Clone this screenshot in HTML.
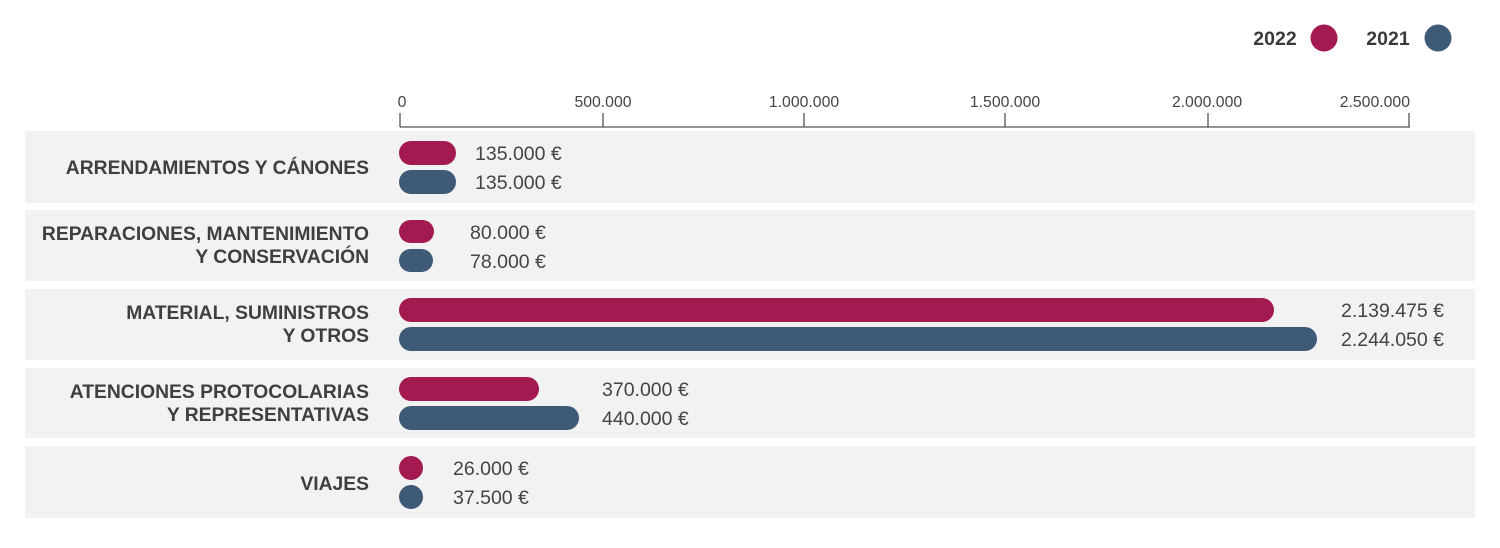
<!DOCTYPE html>
<html><head><meta charset="utf-8"><style>
body{margin:0;width:1500px;height:543px;background:#fff;overflow:hidden;font-family:"Liberation Sans",sans-serif;}
</style></head><body>
<svg width="1500" height="543" xmlns="http://www.w3.org/2000/svg" font-family="Liberation Sans, sans-serif">
<g font-size="19.5" font-weight="bold" fill="#3a3a3a">
<text x="1275" y="45" text-anchor="middle">2022</text>
<text x="1388" y="45" text-anchor="middle">2021</text>
</g>
<circle cx="1324" cy="38" r="13.5" fill="#a21a50"/>
<circle cx="1438" cy="38" r="13.5" fill="#3f5a76"/>
<g font-size="15.8" fill="#444">
<text x="402" y="107" text-anchor="middle">0</text>
<text x="603" y="107" text-anchor="middle">500.000</text>
<text x="804" y="107" text-anchor="middle">1.000.000</text>
<text x="1005" y="107" text-anchor="middle">1.500.000</text>
<text x="1207" y="107" text-anchor="middle">2.000.000</text>
<text x="1410" y="107" text-anchor="end">2.500.000</text>
</g>
<g stroke="#555" stroke-width="1.3">
<line x1="400" y1="127" x2="1410" y2="127"/>
<line x1="400" y1="113" x2="400" y2="127"/>
<line x1="603" y1="113" x2="603" y2="127"/>
<line x1="804" y1="113" x2="804" y2="127"/>
<line x1="1005" y1="113" x2="1005" y2="127"/>
<line x1="1208" y1="113" x2="1208" y2="127"/>
<line x1="1409" y1="113" x2="1409" y2="127"/>
</g>
<g fill="#f2f2f2">
<rect x="25" y="131" width="1450" height="72"/>
<rect x="25" y="210" width="1450" height="71"/>
<rect x="25" y="289" width="1450" height="71"/>
<rect x="25" y="368" width="1450" height="70"/>
<rect x="25" y="446" width="1450" height="72"/>
</g>
<g font-size="19.3" font-weight="bold" fill="#3f3f3f" text-anchor="end">
<text x="369" y="174">ARRENDAMIENTOS Y CÁNONES</text>
<text x="369" y="240">REPARACIONES, MANTENIMIENTO</text>
<text x="369" y="263">Y CONSERVACIÓN</text>
<text x="369" y="319">MATERIAL, SUMINISTROS</text>
<text x="369" y="342">Y OTROS</text>
<text x="369" y="398">ATENCIONES PROTOCOLARIAS</text>
<text x="369" y="421">Y REPRESENTATIVAS</text>
<text x="369" y="490">VIAJES</text>
</g>
<g fill="#a21a50">
<rect x="399" y="141" width="57" height="24" rx="12"/>
<rect x="399" y="220" width="35" height="23" rx="11.5"/>
<rect x="399" y="298" width="875" height="24" rx="12"/>
<rect x="399" y="377" width="140" height="24" rx="12"/>
<rect x="399" y="456" width="24" height="24" rx="12"/>
</g>
<g fill="#3f5a76">
<rect x="399" y="170" width="57" height="24" rx="12"/>
<rect x="399" y="249" width="34" height="23" rx="11.5"/>
<rect x="399" y="327" width="918" height="24" rx="12"/>
<rect x="399" y="406" width="180" height="24" rx="12"/>
<rect x="399" y="485" width="24" height="24" rx="12"/>
</g>
<g font-size="19.5" fill="#444">
<text x="475" y="160">135.000 €</text>
<text x="475" y="189">135.000 €</text>
<text x="470" y="239">80.000 €</text>
<text x="470" y="268">78.000 €</text>
<text x="1341" y="317">2.139.475 €</text>
<text x="1341" y="346">2.244.050 €</text>
<text x="602" y="396">370.000 €</text>
<text x="602" y="425">440.000 €</text>
<text x="453" y="475">26.000 €</text>
<text x="453" y="504">37.500 €</text>
</g>
</svg>
</body></html>
